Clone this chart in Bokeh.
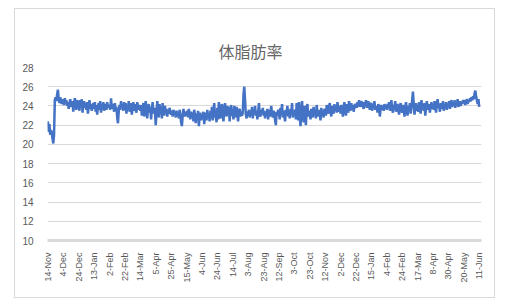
import math
from bokeh.plotting import figure
from bokeh.models import FixedTicker, Range1d, ColumnDataSource, Title
from bokeh.embed import file_html
from bokeh.resources import INLINE

title_text = "体脂肪率"

tick_labels = ["14-Nov", "4-Dec", "24-Dec", "13-Jan", "2-Feb", "22-Feb", "14-Mar",
               "5-Apr", "25-Apr", "15-May", "4-Jun", "24-Jun", "14-Jul", "3-Aug",
               "23-Aug", "12-Sep", "3-Oct", "23-Oct", "12-Nov", "2-Dec", "22-Dec",
               "15-Jan", "4-Feb", "24-Feb", "17-Mar", "8-Apr", "30-Apr", "20-May", "11-Jun"]

body_fat = [
    22.4, 21.3, 22.1, 21.0, 21.5, 21.2, 20.6, 20.1, 21.0, 24.6, 24.9, 24.5, 25.2, 25.7, 24.8, 24.3, 24.9, 24.6, 24.2, 24.7,
    24.5, 24.1, 24.8, 24.3, 24.6, 24.0, 24.4, 23.7, 24.2, 24.7, 24.1, 23.9, 24.5, 23.4, 24.3, 24.8, 24.2, 23.6, 24.6, 24.4,
    24.2, 23.5, 24.6, 24.0, 24.7, 23.3, 24.1, 24.5, 23.8, 24.3, 23.6, 24.4, 23.2, 24.0, 24.6, 23.7, 24.2, 23.5, 24.0, 24.3,
    23.7, 24.4, 23.4, 24.1, 23.1, 23.9, 24.3, 23.6, 24.5, 23.3, 24.0, 23.8, 24.4, 23.5, 23.9, 24.2, 23.6, 24.4, 23.8, 24.1,
    24.0, 23.6, 24.8, 23.7, 24.2, 23.9, 23.4, 24.3, 23.5, 23.9, 22.8, 22.2, 23.4, 24.1, 23.6, 24.5, 23.8, 24.2, 23.5, 24.4,
    23.6, 24.3, 23.2, 24.0, 23.7, 24.5, 23.4, 23.9, 24.3, 23.1, 23.8, 24.4, 23.5, 24.2, 23.7, 23.3, 24.4, 23.9, 23.6, 24.1,
    23.5, 24.1, 23.0, 23.8, 24.3, 22.9, 23.6, 24.5, 23.4, 22.7, 23.8, 24.2, 23.3, 23.9, 22.6, 23.7, 24.4, 23.2, 23.8, 23.5,
    22.0, 23.2, 24.5, 23.6, 22.8, 24.2, 23.4, 23.9, 22.7, 24.3, 23.5, 23.0, 24.0, 23.3, 23.7, 22.9, 23.6, 23.2, 23.8, 23.4,
    23.1, 23.5, 22.9, 23.6, 23.2, 23.4, 22.8, 23.5, 23.0, 23.3, 22.7, 23.6, 23.1, 22.3, 21.9, 23.0, 23.7, 23.2, 22.9, 23.4,
    23.0, 23.5, 22.8, 23.7, 23.1, 22.6, 23.4, 22.9, 23.3, 22.4, 23.6, 23.0, 22.2, 23.2, 22.7, 23.5, 21.9, 22.8, 23.3, 22.5,
    23.1, 22.6, 23.4, 22.1, 22.9, 23.3, 22.5, 23.6, 22.8, 23.2, 22.4, 23.5, 22.7, 23.9, 22.5, 23.4, 24.3, 22.8, 23.1, 22.3,
    23.8, 22.6, 24.4, 23.0, 22.7, 23.9, 24.2, 23.1, 22.4, 23.7, 24.3, 23.4, 22.9, 24.0, 23.5, 23.9, 22.4, 23.6, 24.1, 23.0,
    23.2, 22.6, 24.0, 23.6, 22.8, 23.9, 23.1, 22.4, 23.5, 23.7, 22.9, 23.4, 23.0, 23.3, 25.2, 26.0, 24.6, 23.1, 22.7, 23.4,
    23.0, 23.6, 22.8, 23.4, 23.1, 23.9, 22.7, 23.5, 23.2, 24.0, 23.0, 23.5, 22.6, 23.3, 24.3, 23.1, 22.9, 23.6, 23.2, 23.8,
    23.0, 23.5, 22.7, 23.4, 23.1, 23.7, 22.6, 23.6, 22.9, 23.3, 24.0, 23.1, 22.8, 23.5, 23.2, 22.5, 22.0, 23.4, 23.0, 23.6,
    23.2, 22.6, 23.8, 23.1, 24.2, 22.8, 23.5, 23.0, 22.4, 23.6, 23.2, 24.0, 22.9, 23.3, 22.7, 23.7, 23.1, 24.3, 22.8, 23.4,
    23.0, 23.6, 22.6, 24.3, 23.4, 22.5, 24.4, 23.0, 21.9, 23.5, 24.5, 23.2, 22.3, 24.0, 23.3, 22.0, 23.8, 24.2, 22.9, 23.5,
    23.1, 22.6, 23.7, 23.3, 22.8, 23.9, 23.0, 23.5, 22.7, 24.1, 23.2, 22.9, 23.6, 23.3, 22.5, 23.8, 23.1, 23.4, 22.8, 23.7,
    23.5, 23.0, 24.1, 23.6, 23.2, 23.9, 24.3, 23.4, 22.9, 24.0, 23.6, 23.2, 24.2, 23.5, 23.8, 23.3, 24.4, 23.7, 23.4, 24.0,
    23.2, 24.1, 23.6, 22.9, 23.8, 24.4, 23.4, 23.0, 24.2, 23.7, 23.3, 24.5, 23.9, 23.5, 24.3, 23.6, 24.1, 23.4, 23.9, 24.2,
    24.1, 23.8, 24.4, 23.9, 24.6, 24.2, 23.9, 24.5, 24.3, 24.0, 23.7, 24.4, 24.1, 24.6, 23.8, 24.3, 24.5, 24.0, 23.6, 24.2,
    24.3, 23.5, 24.1, 23.8, 24.5, 23.6, 24.0, 23.8, 23.3, 24.2, 23.9, 22.9, 23.7, 24.1, 23.6, 24.0, 23.5, 24.2, 23.8, 24.0,
    23.6, 24.2, 23.8, 24.4, 23.5, 24.0, 24.6, 23.7, 23.3, 24.1, 23.9, 24.5, 23.4, 23.8, 24.2, 23.6, 23.1, 23.9, 24.3, 23.7,
    23.3, 24.1, 23.7, 22.9, 23.8, 24.4, 23.5, 23.0, 24.0, 23.6, 24.3, 23.2, 23.8, 24.6, 25.5, 24.2, 23.1, 23.7, 24.3, 23.5,
    24.0, 23.4, 24.4, 23.8, 23.2, 24.6, 23.9, 24.1, 23.5, 24.3, 23.0, 23.8, 24.5, 24.0, 23.6, 24.2, 23.3, 23.9, 24.4, 23.7,
    24.1, 23.6, 24.5, 23.9, 23.3, 24.2, 24.7, 23.8, 24.0, 23.4, 24.3, 24.0, 23.7, 24.5, 23.5, 24.1, 23.9, 24.4, 23.6, 24.2,
    24.0, 24.5, 23.7, 24.3, 24.6, 23.9, 24.2, 24.0, 24.6, 23.8, 24.4, 24.1, 24.7, 23.9, 24.3, 24.5, 24.0, 24.4, 24.2, 24.6,
    24.3, 24.6, 24.1, 24.5, 24.7, 24.2, 24.6, 24.4, 24.8, 24.5, 24.9, 24.6, 25.0, 24.7, 25.3, 25.6, 25.0, 24.6, 24.2, 24.7,
    23.9,
]

y_ticks = [10, 12, 14, 16, 18, 20, 22, 24, 26, 28]
label_step = 20

idx = list(range(len(body_fat)))
source = ColumnDataSource(data=dict(x=idx, y=body_fat))

p = figure(width=481, height=290, output_backend="svg", toolbar_location=None,
           x_range=Range1d(-0.5, len(body_fat) + 2), y_range=Range1d(10, 28),
           min_border_left=32, min_border_right=15, min_border_top=58, min_border_bottom=59,
           margin=(8, 10, 9, 14))
p.styles = {"border": "1px solid #d9d9d9"}

# default title hidden; an invisible spacer sits next to the plot area,
# and the real title is stacked above it
p.title.text = ""
p.title.visible = False

spacer = Title(text=" ", text_font="Liberation Sans", text_font_size="10px",
               text_alpha=0, standoff=5)
p.add_layout(spacer, "above")

main_title = Title(text=title_text, align="left", offset=171, standoff=10,
                   text_font="Noto Sans CJK JP", text_font_size="16px",
                   text_font_style="normal", text_color="#666666")
p.add_layout(main_title, "above")

p.line("x", "y", source=source, line_color="#4472C4", line_width=2.5)

p.outline_line_color = None
p.xgrid.grid_line_color = None
p.ygrid.grid_line_color = "#d9d9d9"
p.ygrid.grid_line_width = 1

p.yaxis.ticker = FixedTicker(ticks=y_ticks)
p.yaxis.axis_line_color = None
p.yaxis.major_tick_line_color = None
p.yaxis.minor_tick_line_color = None
p.yaxis.major_label_text_font = "Liberation Sans"
p.yaxis.major_label_text_font_size = "10px"
p.yaxis.major_label_text_color = "#595959"
p.yaxis.major_label_standoff = 8

xt = [i * label_step for i in range(len(tick_labels))]
p.xaxis.ticker = FixedTicker(ticks=xt)
p.xaxis.major_label_overrides = {t: lab for t, lab in zip(xt, tick_labels)}
p.xaxis.major_label_orientation = math.pi / 2
p.xaxis.axis_line_color = "#d9d9d9"
p.xaxis.axis_line_width = 3
p.xaxis.major_tick_line_color = None
p.xaxis.minor_tick_line_color = None
p.xaxis.major_label_text_font = "Liberation Sans"
p.xaxis.major_label_text_font_size = "9px"
p.xaxis.major_label_text_color = "#595959"
p.xaxis.major_label_standoff = 6

open("out.html", "w").write(file_html(p, INLINE))
